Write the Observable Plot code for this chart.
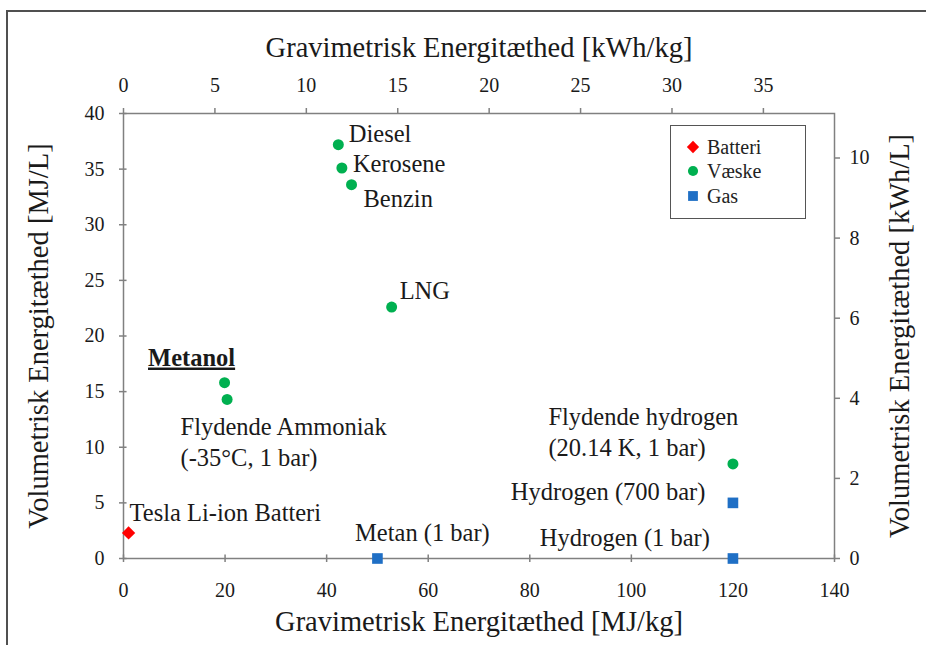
<!DOCTYPE html>
<html><head><meta charset="utf-8">
<script src="https://cdn.jsdelivr.net/npm/d3@7"></script>
<script src="https://cdn.jsdelivr.net/npm/@observablehq/plot@0.6"></script>
<style>
body{margin:0;background:#fff;overflow:hidden;}
#wrap{position:relative;width:926px;height:645px;overflow:hidden;}
#outer{position:absolute;left:6px;top:10px;width:960px;height:700px;border-top:2px solid #505050;border-left:2px solid #505050;pointer-events:none;}
#legend{position:absolute;left:670px;top:125px;width:134px;height:92px;border:1.5px solid #555;background:#fff;font-family:'Liberation Serif',serif;font-size:20px;color:#222;}
#legend .row{position:absolute;left:0;height:24px;display:flex;align-items:center;}
#legend svg{margin-left:14px;margin-right:6px;}
svg text{font-family:'Liberation Serif',serif;}
</style></head><body>
<div id="wrap"><div id="outer"></div></div>
<script>
// ---- data ----
const names = ["Tesla Li-ion Batteri","Metanol","Flydende Ammoniak\n(-35°C, 1 bar)","Diesel","Kerosene","Benzin","LNG","Metan (1 bar)","Flydende hydrogen\n(20.14 K, 1 bar)","Hydrogen (700 bar)","Hydrogen (1 bar)"];
const gravimetric = [1.0, 19.9, 20.4, 42.3, 43.0, 44.9, 52.8, 50.0, 120.0, 120.0, 120.0]; // MJ/kg
const volumetric = [2.3, 15.8, 14.3, 37.2, 35.1, 33.6, 22.6, 0.0, 8.5, 5.0, 0.0];       // MJ/L
const types = ["Batteri","Væske","Væske","Væske","Væske","Væske","Væske","Gas","Væske","Gas","Gas"];
const legendTypes = ["Batteri","Væske","Gas"];
const bottomTicks = [0, 20, 40, 60, 80, 100, 120, 140];
const leftTicks = [0, 5, 10, 15, 20, 25, 30, 35, 40];
const topTicksKWh = [0, 5, 10, 15, 20, 25, 30, 35];
const rightTicksKWh = [0, 2, 4, 6, 8, 10];
const titleTop = "Gravimetrisk Energitæthed [kWh/kg]";
const titleBottom = "Gravimetrisk Energitæthed [MJ/kg]";
const titleLeft = "Volumetrisk Energitæthed [MJ/L]";
const titleRight = "Volumetrisk Energitæthed [kWh/L]";

const data = names.map((n, i) => ({name: n, g: gravimetric[i], v: volumetric[i], type: types[i]}));

const colors = {Batteri: "#ff0000", "Væske": "#00b050", Gas: "#1f6fc5"};
const symbols = {Batteri: "diamond2", "Væske": "circle", Gas: "square"};
const radii = {Batteri: 6.0, "Væske": 5.5, Gas: 6.0};
const FONT = "Liberation Serif, serif";
const axisGray = "#808080";
const textCol = "#1a1a1a";

const label = (name, dx, dy, anchor = "start", extra = {}) =>
  Plot.text(data.filter(d => d.name === name), {
    x: "g", y: "v", text: "name", dx, dy, textAnchor: anchor,
    fontSize: 24.5, lineHeight: 1.25, fill: textCol, fontFamily: FONT, ...extra
  });

const dotsFor = t => Plot.dot(data.filter(d => d.type === t), {
  x: "g", y: "v", symbol: () => symbols[t], r: radii[t], fill: colors[t], stroke: "none"
});

const axisOpts = {stroke: axisGray, strokeWidth: 1.5, fill: textCol, fontSize: 20, fontFamily: FONT, label: null};

const chart = Plot.plot({
  width: 926, height: 645,
  marginLeft: 123, marginRight: 92, marginTop: 113, marginBottom: 87,
  style: {fontFamily: FONT, fontSize: "20px", color: textCol, background: "transparent"},
  x: {domain: [0, 140]},
  y: {domain: [0, 40]},
  symbol: {type: "identity"},
  marks: [
    // axes
    Plot.axisX(bottomTicks, {anchor: "bottom", tickSize: 4, tickPadding: 20, ...axisOpts}),
    Plot.ruleX(bottomTicks, {x: d => d, y1: 0, y2: 0.32, stroke: axisGray, strokeWidth: 1.5}),
    Plot.axisY(leftTicks, {anchor: "left", tickSize: 4, tickPadding: 15, ...axisOpts}),
    Plot.ruleY(leftTicks, {y: d => d, x1: 0, x2: 0.7, stroke: axisGray, strokeWidth: 1.5}),
    Plot.axisX(topTicksKWh.map(k => k * 3.6), {anchor: "top", tickSize: 6, tickPadding: 16, tickFormat: d => Math.round(d / 3.6), ...axisOpts}),
    Plot.axisY(rightTicksKWh.map(k => k * 3.6), {anchor: "right", tickSize: 5, tickPadding: 10, tickFormat: d => Math.round(d / 3.6), ...axisOpts}),
    Plot.frame({stroke: axisGray, strokeWidth: 1.5}),
    // titles
    Plot.text([titleTop], {frameAnchor: "top", lineAnchor: "middle", dy: -66, fontSize: 28.5, fill: textCol, fontFamily: FONT}),
    Plot.text([titleBottom], {frameAnchor: "bottom", lineAnchor: "middle", dy: 63, fontSize: 28.5, fill: textCol, fontFamily: FONT}),
    Plot.text([titleLeft], {frameAnchor: "left", textAnchor: "middle", lineAnchor: "middle", dx: -85, rotate: -90, fontSize: 28.5, fill: textCol, fontFamily: FONT}),
    Plot.text([titleRight], {frameAnchor: "right", textAnchor: "middle", lineAnchor: "middle", dx: 65, rotate: -90, fontSize: 28.5, fill: textCol, fontFamily: FONT}),
    // points
    ...legendTypes.map(dotsFor),
    // labels
    label(names[0], 1, -22),
    label(names[1], -33, -27, "middle", {fontWeight: "bold"}),
    label(names[2], -46.6, 41),
    label(names[3], 10.5, -12),
    label(names[4], 11, -6),
    label(names[5], 12, 12),
    label(names[6], 8, -18),
    label(names[7], 45, -27, "middle"),
    label(names[8], -184.5, -33.5),
    label(names[9], -27.5, -13, "end"),
    label(names[10], -23, -22, "end")
  ]
});

// underline Metanol
d3.select(chart).selectAll("text").filter(function() { return this.textContent === "Metanol"; })
  .style("text-decoration", "underline");

const wrap = document.getElementById("wrap");
chart.style.position = "absolute";
chart.style.left = "0px";
chart.style.top = "0px";
wrap.insertBefore(chart, wrap.firstChild);

// legend
const legend = document.createElement("div");
legend.id = "legend";
const rowTops = [9, 33, 58];
legendTypes.forEach((t, i) => {
  const row = document.createElement("div");
  row.className = "row";
  row.style.top = rowTops[i] + "px";
  const sym = d3.create("svg").attr("width", 16).attr("height", 16);
  const sz = Math.PI * radii[t] * radii[t] * 0.85;
  const sy = t === "Batteri" ? d3.symbolDiamond2 : t === "Gas" ? d3.symbolSquare : d3.symbolCircle;
  sym.append("path").attr("transform", "translate(8,8)").attr("d", d3.symbol(sy, sz)()).attr("fill", colors[t]);
  row.appendChild(sym.node());
  const span = document.createElement("span");
  span.textContent = t;
  row.appendChild(span);
  legend.appendChild(row);
});
wrap.appendChild(legend);
</script>
</body></html>
